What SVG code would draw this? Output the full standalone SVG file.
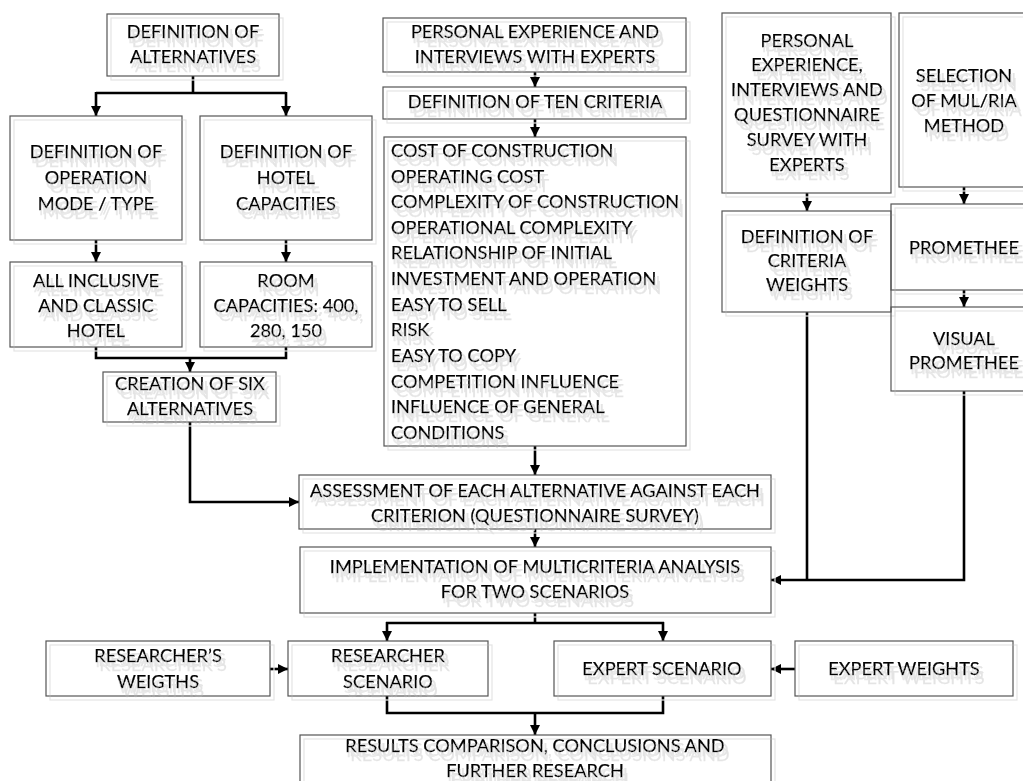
<svg xmlns="http://www.w3.org/2000/svg" width="1023" height="781" viewBox="0 0 1023 781">
  <defs>
    <style>
      .box { fill: none; stroke: #555; stroke-width: 1.2; }
      .nd { filter: url(#boxShadow); }
      text { font-family: Lato, "Open Sans", "Liberation Sans", sans-serif; font-size: 18.2px; fill: #000; stroke: #000; stroke-width: 0.25; text-anchor: middle; filter: url(#textShadow); }
      text.left { text-anchor: start; }
      .wire { fill: none; stroke: #000; stroke-width: 2.6; stroke-linejoin: miter; }
      .arr { marker-end: url(#head); }
    </style>
    <filter id="boxShadow" x="-5%" y="-5%" width="115%" height="120%">
      <feOffset in="SourceAlpha" dx="4" dy="4" result="o"/>
      <feFlood flood-color="#e4e4e4"/>
      <feComposite in2="o" operator="in"/>
      <feMerge><feMergeNode/><feMergeNode in="SourceGraphic"/></feMerge>
    </filter>
    <filter id="textShadow" x="-5%" y="-30%" width="115%" height="180%">
      <feOffset in="SourceAlpha" dx="1" dy="5" result="o"/>
      <feFlood flood-color="#e9e9e9"/>
      <feComposite in2="o" operator="in"/>
      <feMerge><feMergeNode/><feMergeNode in="SourceGraphic"/></feMerge>
    </filter>
    <marker id="head" viewBox="0 0 10 10" refX="10" refY="5" markerWidth="10" markerHeight="10" markerUnits="userSpaceOnUse" orient="auto">
      <path d="M0,0 L10,5 L0,10 z" fill="#000"/>
    </marker>
  </defs>
  <rect width="1023" height="781" fill="#fff"/>

  <!-- connectors -->
  <g id="connectors">
    <path class="wire" d="M193,76 V93 M96,93 H286"/>
    <path class="wire arr" d="M96,92 V116"/>
    <path class="wire arr" d="M286,92 V116"/>
    <path class="wire arr" d="M96,240 V262"/>
    <path class="wire arr" d="M286,240 V262"/>
    <path class="wire" d="M96,347 V358 H286 V347"/>
    <path class="wire arr" d="M190,358 V372"/>
    <path class="wire arr" d="M190,422 V502 H299"/>
    <path class="wire arr" d="M535,72 V87"/>
    <path class="wire arr" d="M535,119 V137"/>
    <path class="wire arr" d="M535,446 V475"/>
    <path class="wire arr" d="M535,529 V547"/>
    <path class="wire arr" d="M807,193 V211"/>
    <path class="wire arr" d="M964,187 V204"/>
    <path class="wire arr" d="M964,290 V307"/>
    <path class="wire" d="M807,312 V580"/>
    <path class="wire arr" d="M964,391 V580 H771"/>
    <path class="wire" d="M535,613 V623 M386,623 H664"/>
    <path class="wire arr" d="M387,622 V641"/>
    <path class="wire arr" d="M663,622 V641"/>
    <path class="wire arr" d="M270,669 H288"/>
    <path class="wire arr" d="M795,669 H771"/>
    <path class="wire" d="M387,696 V713 H663 V696"/>
    <path class="wire arr" d="M535,712 V735"/>
  </g>

  <!-- left branch: alternatives -->
  <g id="def-alternatives" class="nd">
    <rect class="box" x="107" y="14" width="172" height="62"/>
    <text><tspan x="193" y="38">DEFINITION OF</tspan><tspan x="193" y="63">ALTERNATIVES</tspan></text>
  </g>
  <g id="def-operation" class="nd">
    <rect class="box" x="10" y="116" width="172" height="124"/>
    <text><tspan x="96" y="158">DEFINITION OF</tspan><tspan x="96" y="184">OPERATION</tspan><tspan x="96" y="210">MODE / TYPE</tspan></text>
  </g>
  <g id="def-capacities" class="nd">
    <rect class="box" x="200" y="116" width="172" height="124"/>
    <text><tspan x="286" y="158">DEFINITION OF</tspan><tspan x="286" y="184">HOTEL</tspan><tspan x="286" y="210">CAPACITIES</tspan></text>
  </g>
  <g id="hotel-types" class="nd">
    <rect class="box" x="10" y="262" width="172" height="85"/>
    <text><tspan x="96" y="287">ALL INCLUSIVE</tspan><tspan x="96" y="312">AND CLASSIC</tspan><tspan x="96" y="337">HOTEL</tspan></text>
  </g>
  <g id="room-capacities" class="nd">
    <rect class="box" x="200" y="262" width="172" height="85"/>
    <text><tspan x="286" y="287">ROOM</tspan><tspan x="286" y="312">CAPACITIES: 400,</tspan><tspan x="286" y="337">280, 150</tspan></text>
  </g>
  <g id="six-alternatives" class="nd">
    <rect class="box" x="103" y="372" width="173" height="50"/>
    <text><tspan x="190" y="390">CREATION OF SIX</tspan><tspan x="190" y="415">ALTERNATIVES</tspan></text>
  </g>

  <!-- middle branch: criteria -->
  <g id="experience" class="nd">
    <rect class="box" x="383" y="18" width="303" height="54"/>
    <text><tspan x="535" y="38">PERSONAL EXPERIENCE AND</tspan><tspan x="535" y="63">INTERVIEWS WITH EXPERTS</tspan></text>
  </g>
  <g id="ten-criteria" class="nd">
    <rect class="box" x="383" y="87" width="303" height="32"/>
    <text><tspan x="535" y="108">DEFINITION OF TEN CRITERIA</tspan></text>
  </g>
  <g id="criteria-list" class="nd">
    <rect class="box" x="384" y="137" width="302" height="309"/>
    <text class="left">
      <tspan x="391" y="157">COST OF CONSTRUCTION</tspan>
      <tspan x="391" y="183">OPERATING COST</tspan>
      <tspan x="391" y="208">COMPLEXITY OF CONSTRUCTION</tspan>
      <tspan x="391" y="234">OPERATIONAL COMPLEXITY</tspan>
      <tspan x="391" y="259">RELATIONSHIP OF INITIAL</tspan>
      <tspan x="391" y="285">INVESTMENT AND OPERATION</tspan>
      <tspan x="391" y="311">EASY TO SELL</tspan>
      <tspan x="391" y="336">RISK</tspan>
      <tspan x="391" y="362">EASY TO COPY</tspan>
      <tspan x="391" y="388">COMPETITION INFLUENCE</tspan>
      <tspan x="391" y="413">INFLUENCE OF GENERAL</tspan>
      <tspan x="391" y="439">CONDITIONS</tspan>
    </text>
  </g>

  <!-- right branch: weights and method -->
  <g id="survey" class="nd">
    <rect class="box" x="722" y="13" width="169" height="180"/>
    <text><tspan x="807" y="47">PERSONAL</tspan><tspan x="807" y="71">EXPERIENCE,</tspan><tspan x="807" y="96">INTERVIEWS AND</tspan><tspan x="807" y="121">QUESTIONNAIRE</tspan><tspan x="807" y="146">SURVEY WITH</tspan><tspan x="807" y="171">EXPERTS</tspan></text>
  </g>
  <g id="method-selection" class="nd">
    <rect class="box" x="899" y="13" width="131" height="174"/>
    <text><tspan x="964" y="82">SELECTION</tspan><tspan x="964" y="107">OF MUL/RIA</tspan><tspan x="964" y="132">METHOD</tspan></text>
  </g>
  <g id="criteria-weights" class="nd">
    <rect class="box" x="722" y="211" width="169" height="101"/>
    <text><tspan x="807" y="243">DEFINITION OF</tspan><tspan x="807" y="267">CRITERIA</tspan><tspan x="807" y="291">WEIGHTS</tspan></text>
  </g>
  <g id="promethee" class="nd">
    <rect class="box" x="891" y="204" width="139" height="86"/>
    <text><tspan x="964" y="254">PROMETHEE</tspan></text>
  </g>
  <g id="visual-promethee" class="nd">
    <rect class="box" x="891" y="307" width="139" height="84"/>
    <text><tspan x="964" y="345">VISUAL</tspan><tspan x="964" y="369">PROMETHEE</tspan></text>
  </g>

  <!-- analysis -->
  <g id="assessment" class="nd">
    <rect class="box" x="299" y="475" width="472" height="54"/>
    <text><tspan x="535" y="497">ASSESSMENT OF EACH ALTERNATIVE AGAINST EACH</tspan><tspan x="535" y="522">CRITERION (QUESTIONNAIRE SURVEY)</tspan></text>
  </g>
  <g id="implementation" class="nd">
    <rect class="box" x="300" y="547" width="471" height="66"/>
    <text><tspan x="535" y="573">IMPLEMENTATION OF MULTICRITERIA ANALYSIS</tspan><tspan x="535" y="598">FOR TWO SCENARIOS</tspan></text>
  </g>

  <!-- scenarios -->
  <g id="researcher-weights" class="nd">
    <rect class="box" x="46" y="641" width="224" height="55"/>
    <text><tspan x="158" y="662">RESEARCHER’S</tspan><tspan x="158" y="688">WEIGTHS</tspan></text>
  </g>
  <g id="researcher-scenario" class="nd">
    <rect class="box" x="288" y="641" width="200" height="55"/>
    <text><tspan x="388" y="662">RESEARCHER</tspan><tspan x="388" y="688">SCENARIO</tspan></text>
  </g>
  <g id="expert-scenario" class="nd">
    <rect class="box" x="554" y="641" width="217" height="55"/>
    <text><tspan x="662" y="675">EXPERT SCENARIO</tspan></text>
  </g>
  <g id="expert-weights" class="nd">
    <rect class="box" x="795" y="641" width="218" height="55"/>
    <text><tspan x="904" y="675">EXPERT WEIGHTS</tspan></text>
  </g>
  <g id="results" class="nd">
    <rect class="box" x="300" y="735" width="471" height="60"/>
    <text><tspan x="535" y="752">RESULTS COMPARISON, CONCLUSIONS AND</tspan><tspan x="535" y="777">FURTHER RESEARCH</tspan></text>
  </g>
</svg>
